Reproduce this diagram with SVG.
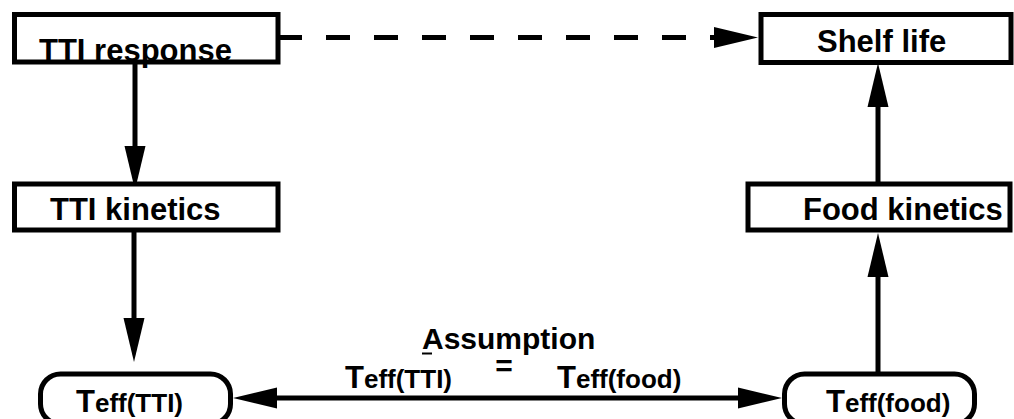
<svg xmlns="http://www.w3.org/2000/svg" width="1014" height="419" viewBox="0 0 1014 419">
<style>
.box{fill:#fff;stroke:#000;stroke-width:5}
.t{font-family:"Liberation Sans",Arial,sans-serif;font-weight:bold;font-size:31px;fill:#000}
.s{font-size:26px}
.c{stroke:#000;stroke-width:5;fill:none}
</style>
<defs>
<marker id="ah" markerUnits="userSpaceOnUse" markerWidth="44" markerHeight="21" refX="0" refY="10.5" orient="auto-start-reverse" overflow="visible">
<path d="M0,0 L44,10.5 L0,21 Z" fill="#000" stroke="none"/>
</marker>
</defs>
<rect width="1014" height="419" fill="#fff"/>
<g id="connectors">
<line class="c" x1="278" y1="37.5" x2="714" y2="37.5" stroke-dasharray="24 24" marker-end="url(#ah)"/>
<line class="c" x1="135" y1="62" x2="135" y2="146" marker-end="url(#ah)"/>
<line class="c" x1="134" y1="230" x2="134" y2="318" marker-end="url(#ah)"/>
<line class="c" x1="878" y1="374" x2="878" y2="277" marker-end="url(#ah)"/>
<line class="c" x1="878" y1="184" x2="878" y2="107" marker-end="url(#ah)"/>
<line class="c" x1="277" y1="398" x2="738" y2="398" marker-start="url(#ah)" marker-end="url(#ah)"/>
</g>
<g id="tti-response">
<rect class="box" x="14.5" y="14.5" width="263.5" height="47.5"/>
<text class="t" x="39" y="61">TTI response</text>
</g>
<g id="shelf-life">
<rect class="box" x="761" y="14.5" width="250" height="48"/>
<text class="t" x="817" y="52">Shelf life</text>
</g>
<g id="tti-kinetics">
<rect class="box" x="14.5" y="184" width="263.5" height="46"/>
<text class="t" x="50" y="220">TTI kinetics</text>
</g>
<g id="food-kinetics">
<rect class="box" x="748" y="184" width="262" height="46"/>
<text class="t" x="803" y="220">Food kinetics</text>
</g>
<g id="teff-tti">
<rect class="box" x="40.5" y="374" width="190" height="50" rx="20"/>
<text class="t" x="76" y="412">T<tspan class="s">eff(TTI)</tspan></text>
</g>
<g id="teff-food">
<rect class="box" x="784.5" y="374" width="190" height="50" rx="20"/>
<text class="t" x="826" y="412">T<tspan class="s">eff(food)</tspan></text>
</g>
<g id="assumption">
<text class="t" x="422" y="349" style="font-size:30px">Assumption</text>
<line x1="422" y1="353.5" x2="432" y2="353.5" stroke="#000" stroke-width="2"/>
<text class="t" x="504" y="376" text-anchor="middle" style="font-size:30px">=</text>
<text class="t" x="345" y="388">T<tspan class="s">eff(TTI)</tspan></text>
<text class="t" x="557" y="388">T<tspan class="s">eff(food)</tspan></text>
</g>
</svg>
